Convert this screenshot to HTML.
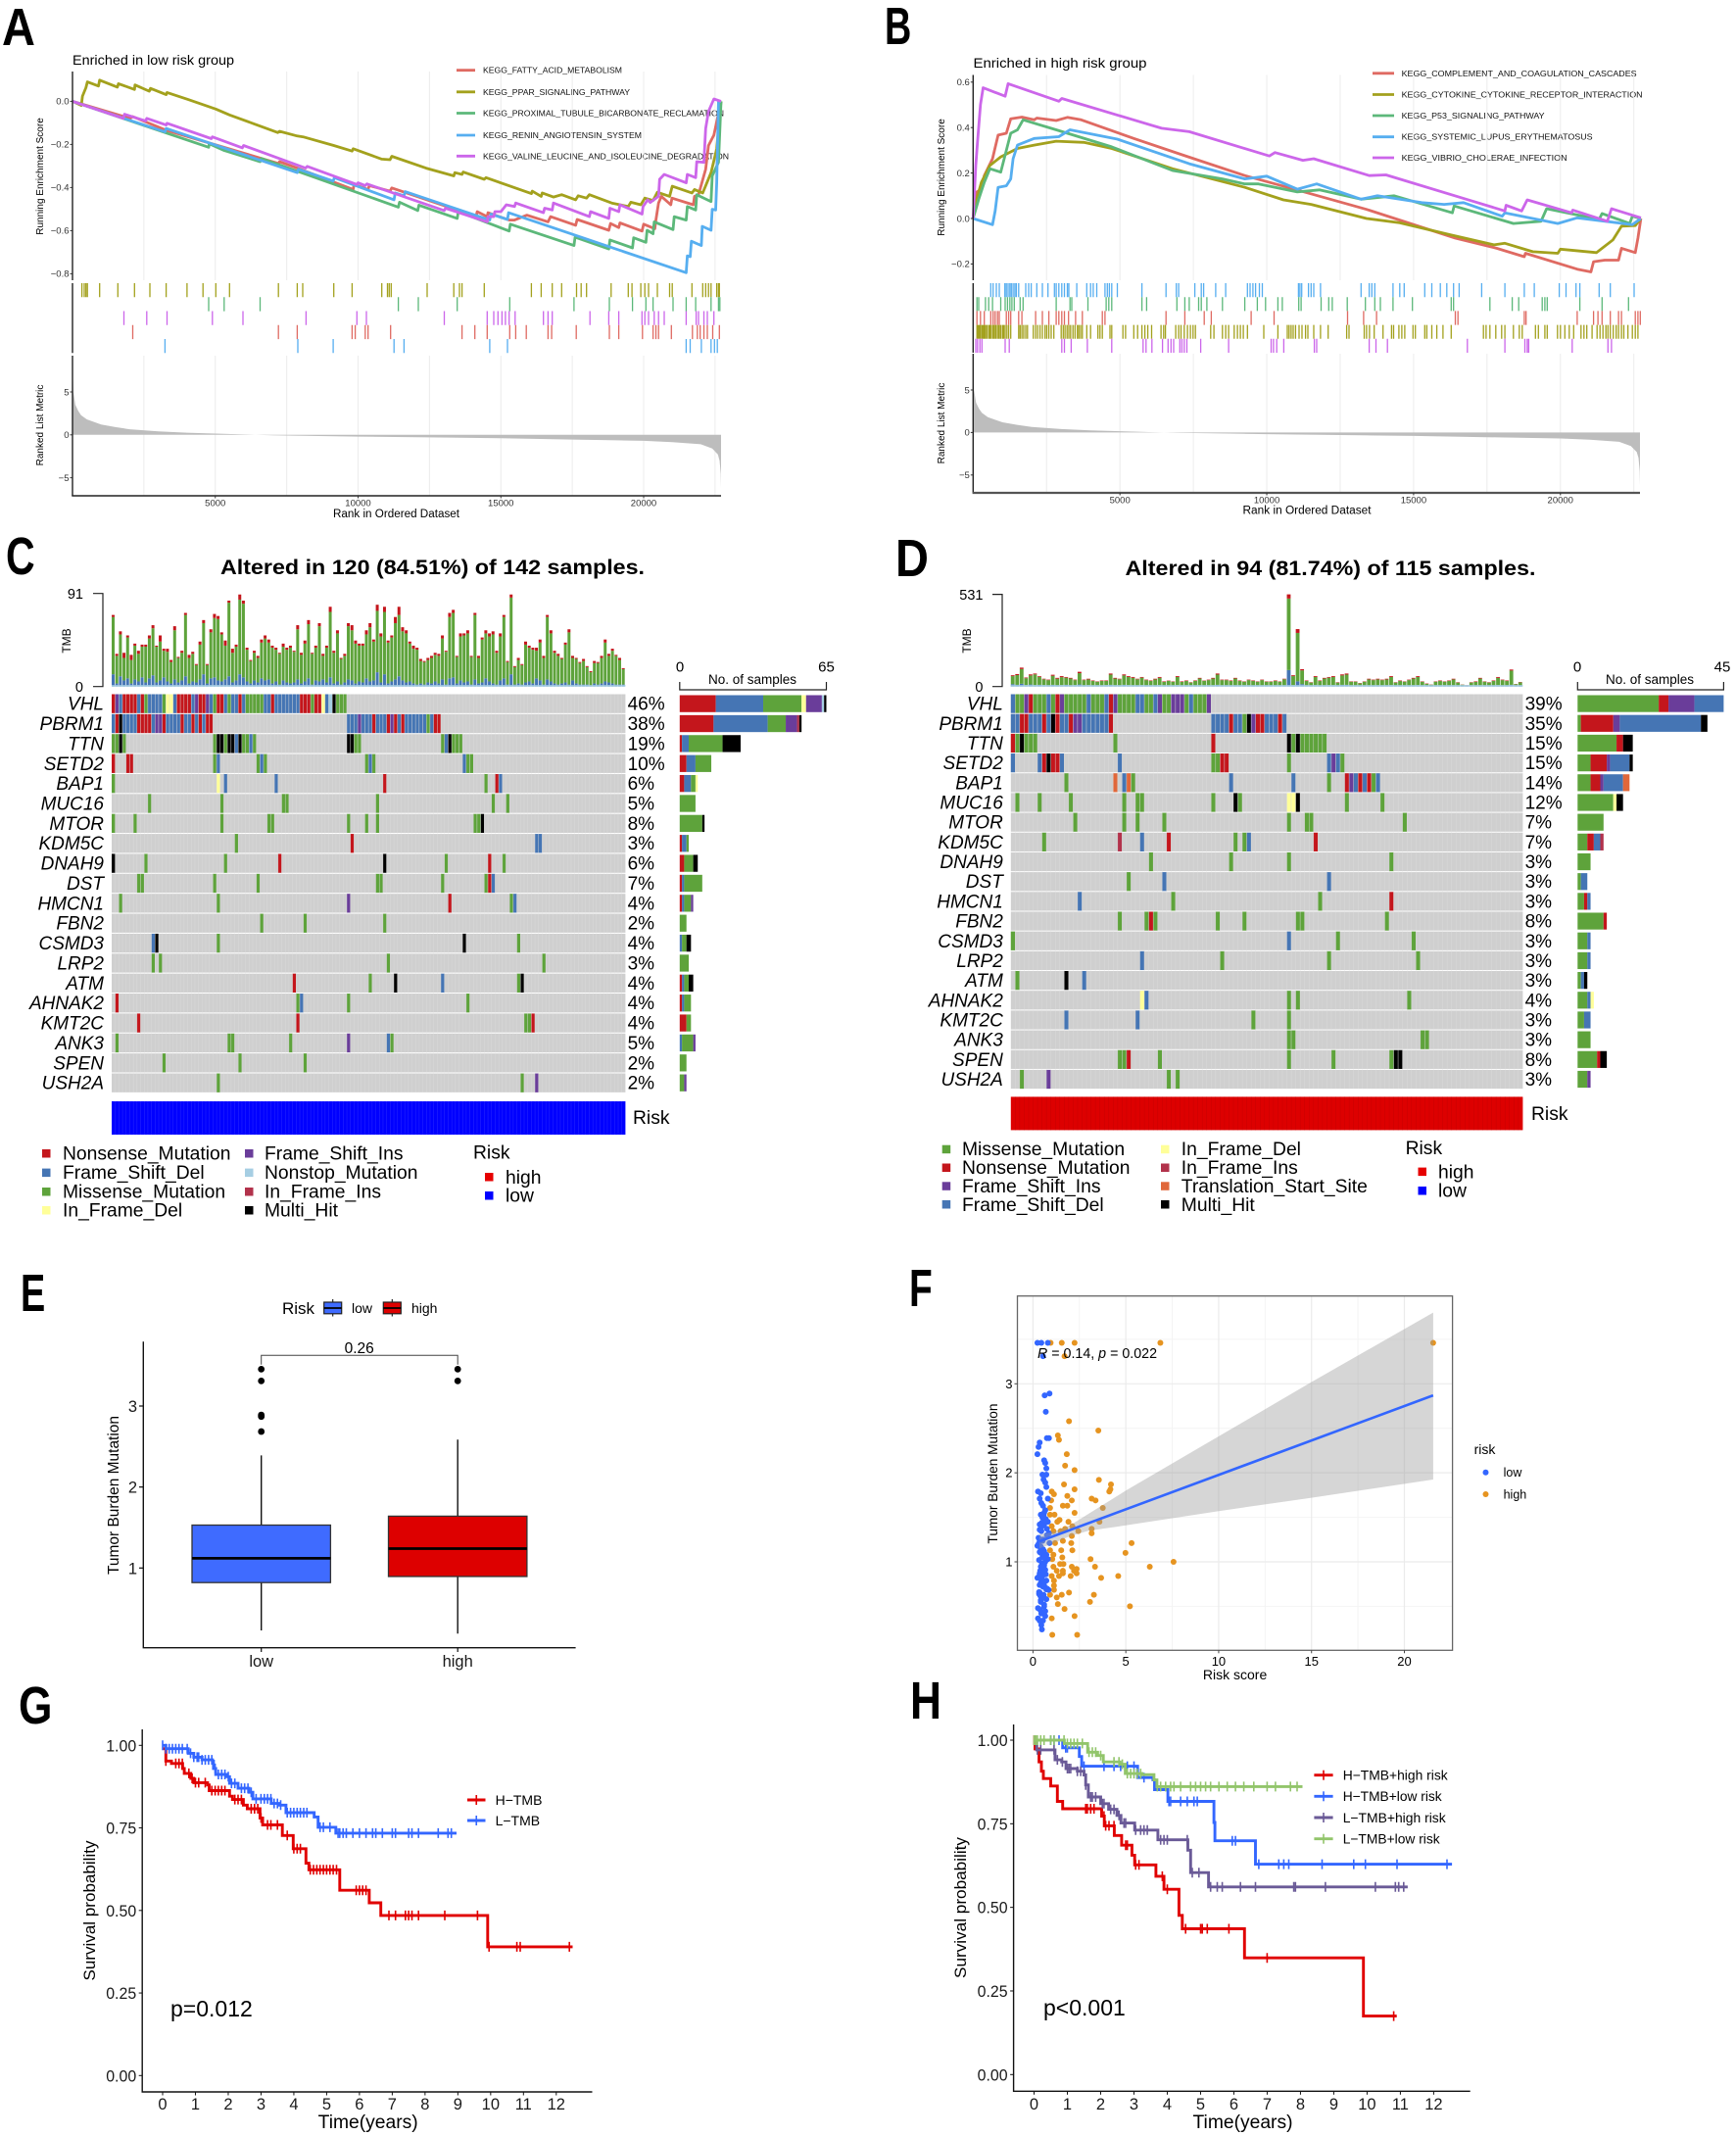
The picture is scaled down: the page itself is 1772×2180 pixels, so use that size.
<!DOCTYPE html>
<html><head><meta charset="utf-8"><title>Multi-panel figure</title>
<style>
html,body{margin:0;padding:0;background:#fff}
svg{display:block;filter:blur(.35px)}
text{font-family:"Liberation Sans",sans-serif;fill:#000}
.tk{font-size:16.5px;fill:#1a1a1a}
.lg{font-size:19.3px}
.gs{font-size:9.5px;fill:#333}
.kg{font-size:8.2px;fill:#111}
</style></head><body>
<svg id="fig" xmlns="http://www.w3.org/2000/svg" width="1772" height="2180" viewBox="0 0 1772 2180">
<rect width="1772" height="2180" fill="#fff"/>
<g id="letters" font-weight="700" font-size="54">
<text transform="translate(2,46) scale(.87,1)">A</text>
<text transform="translate(903,45) scale(.7,1)">B</text>
<text transform="translate(6,586) scale(.76,1)">C</text>
<text transform="translate(914,588) scale(.87,1)">D</text>
<text transform="translate(21,1338) scale(.7,1)">E</text>
<text transform="translate(928,1333) scale(.72,1)">F</text>
<text transform="translate(19,1759) scale(.82,1)">G</text>
<text transform="translate(929,1754) scale(.82,1)">H</text>
</g>
<g id="pa">
<text x="74" y="66" font-size="14" textLength="165" lengthAdjust="spacingAndGlyphs">Enriched in low risk group</text>
<text transform="translate(44,180) rotate(-90)" text-anchor="middle" font-size="10">Running Enrichment Score</text>
<text transform="translate(44,434) rotate(-90)" text-anchor="middle" font-size="10">Ranked List Metric</text>
<text x="404.5" y="528" text-anchor="middle" font-size="11.5" textLength="129" lengthAdjust="spacingAndGlyphs">Rank in Ordered Dataset</text>
<text class="kg" x="493" y="74.7" textLength="142" lengthAdjust="spacingAndGlyphs">KEGG_FATTY_ACID_METABOLISM</text>
<text class="kg" x="493" y="96.8" textLength="150" lengthAdjust="spacingAndGlyphs">KEGG_PPAR_SIGNALING_PATHWAY</text>
<text class="kg" x="493" y="118.5" textLength="246" lengthAdjust="spacingAndGlyphs">KEGG_PROXIMAL_TUBULE_BICARBONATE_RECLAMATION</text>
<text class="kg" x="493" y="141" textLength="162" lengthAdjust="spacingAndGlyphs">KEGG_RENIN_ANGIOTENSIN_SYSTEM</text>
<text class="kg" x="493" y="162.3" textLength="251" lengthAdjust="spacingAndGlyphs">KEGG_VALINE_LEUCINE_AND_ISOLEUCINE_DEGRADATION</text>
</g>
<g id="pb">
<text x="993.5" y="69" font-size="14" textLength="177" lengthAdjust="spacingAndGlyphs">Enriched in high risk group</text>
<text transform="translate(964,181) rotate(-90)" text-anchor="middle" font-size="10">Running Enrichment Score</text>
<text transform="translate(964,432) rotate(-90)" text-anchor="middle" font-size="10">Ranked List Metric</text>
<text x="1334" y="524.5" text-anchor="middle" font-size="11.5" textLength="131" lengthAdjust="spacingAndGlyphs">Rank in Ordered Dataset</text>
<text class="kg" x="1430.6" y="77.8" textLength="240" lengthAdjust="spacingAndGlyphs">KEGG_COMPLEMENT_AND_COAGULATION_CASCADES</text>
<text class="kg" x="1430.6" y="99.5" textLength="246" lengthAdjust="spacingAndGlyphs">KEGG_CYTOKINE_CYTOKINE_RECEPTOR_INTERACTION</text>
<text class="kg" x="1430.6" y="121" textLength="146" lengthAdjust="spacingAndGlyphs">KEGG_P53_SIGNALING_PATHWAY</text>
<text class="kg" x="1430.6" y="142.7" textLength="195" lengthAdjust="spacingAndGlyphs">KEGG_SYSTEMIC_LUPUS_ERYTHEMATOSUS</text>
<text class="kg" x="1430.6" y="164" textLength="169" lengthAdjust="spacingAndGlyphs">KEGG_VIBRIO_CHOLERAE_INFECTION</text>
</g>
<g id="pc">
<text x="441.5" y="586" text-anchor="middle" font-size="21" font-weight="700" textLength="433" lengthAdjust="spacingAndGlyphs">Altered in 120 (84.51%) of 142 samples.</text>
<text transform="translate(72,654) rotate(-90)" text-anchor="middle" font-size="12">TMB</text>
<text x="85" y="611" text-anchor="end" font-size="14.5">91</text>
<text x="85" y="706" text-anchor="end" font-size="14.5">0</text>
<text x="694" y="685.5" text-anchor="middle" font-size="15">0</text>
<text x="843.5" y="685.5" text-anchor="middle" font-size="15">65</text>
<text x="768" y="698" text-anchor="middle" font-size="13.5">No. of samples</text>
<text class="lg" x="646" y="1147">Risk</text>
<text class="lg" x="64" y="1183.5">Nonsense_Mutation</text>
<text class="lg" x="64" y="1203">Frame_Shift_Del</text>
<text class="lg" x="64" y="1222.5">Missense_Mutation</text>
<text class="lg" x="64" y="1241.5">In_Frame_Del</text>
<text class="lg" x="270" y="1183.5">Frame_Shift_Ins</text>
<text class="lg" x="270" y="1203">Nonstop_Mutation</text>
<text class="lg" x="270" y="1222.5">In_Frame_Ins</text>
<text class="lg" x="270" y="1241.5">Multi_Hit</text>
<text class="lg" x="483" y="1182.5">Risk</text>
<text class="lg" x="516" y="1208">high</text>
<text class="lg" x="516" y="1226.5">low</text>
</g>
<g id="pd">
<text x="1358" y="587" text-anchor="middle" font-size="21" font-weight="700" textLength="419" lengthAdjust="spacingAndGlyphs">Altered in 94 (81.74%) of 115 samples.</text>
<text transform="translate(991,654) rotate(-90)" text-anchor="middle" font-size="12">TMB</text>
<text x="1003.5" y="612" text-anchor="end" font-size="14.5">531</text>
<text x="1003.5" y="706" text-anchor="end" font-size="14.5">0</text>
<text x="1610" y="685.5" text-anchor="middle" font-size="15">0</text>
<text x="1758" y="685.5" text-anchor="middle" font-size="15">45</text>
<text x="1684" y="698" text-anchor="middle" font-size="13.5">No. of samples</text>
<text class="lg" x="1563" y="1143">Risk</text>
<text class="lg" x="982" y="1179">Missense_Mutation</text>
<text class="lg" x="982" y="1198">Nonsense_Mutation</text>
<text class="lg" x="982" y="1217">Frame_Shift_Ins</text>
<text class="lg" x="982" y="1236">Frame_Shift_Del</text>
<text class="lg" x="1205.8" y="1179">In_Frame_Del</text>
<text class="lg" x="1205.8" y="1198">In_Frame_Ins</text>
<text class="lg" x="1205.8" y="1217">Translation_Start_Site</text>
<text class="lg" x="1205.8" y="1236">Multi_Hit</text>
<text class="lg" x="1434.6" y="1178">Risk</text>
<text class="lg" x="1468" y="1202.5">high</text>
<text class="lg" x="1468" y="1221.5">low</text>
</g>
<g id="pe">
<text transform="translate(121,1526) rotate(-90)" text-anchor="middle" font-size="16" textLength="162" lengthAdjust="spacingAndGlyphs">Tumor Burden Mutation</text>
<text x="288" y="1341" font-size="17">Risk</text>
<text x="359" y="1340" font-size="14">low</text>
<text x="420" y="1340" font-size="14">high</text>
<text x="366.7" y="1381" text-anchor="middle" font-size="15.5">0.26</text>
</g>
<g id="pf">
<text transform="translate(1018,1504) rotate(-90)" text-anchor="middle" font-size="14" textLength="143" lengthAdjust="spacingAndGlyphs">Tumor Burden Mutation</text>
<text x="1260.6" y="1714" text-anchor="middle" font-size="14">Risk score</text>
<text x="1504.6" y="1484" font-size="14">risk</text>
<text x="1534.6" y="1507" font-size="12.5">low</text>
<text x="1534.6" y="1529.5" font-size="12.5">high</text>
</g>
<g id="pg">
<text transform="translate(97,1950) rotate(-90)" text-anchor="middle" font-size="17" textLength="143" lengthAdjust="spacingAndGlyphs">Survival probability</text>
<text x="375.7" y="2172" text-anchor="middle" font-size="19" textLength="102" lengthAdjust="spacingAndGlyphs">Time(years)</text>
<text x="174" y="2058" font-size="23">p=0.012</text>
<text x="505.6" y="1842" font-size="14">H−TMB</text>
<text x="505.6" y="1863" font-size="14">L−TMB</text>
</g>
<g id="ph">
<text transform="translate(986,1947) rotate(-90)" text-anchor="middle" font-size="17" textLength="144" lengthAdjust="spacingAndGlyphs">Survival probability</text>
<text x="1268.5" y="2172" text-anchor="middle" font-size="19" textLength="102" lengthAdjust="spacingAndGlyphs">Time(years)</text>
<text x="1065" y="2057" font-size="23">p&lt;0.001</text>
<text x="1370.7" y="1816.5" font-size="14" textLength="107" lengthAdjust="spacingAndGlyphs">H−TMB+high risk</text>
<text x="1370.7" y="1838" font-size="14" textLength="101" lengthAdjust="spacingAndGlyphs">H−TMB+low risk</text>
<text x="1370.7" y="1860" font-size="14" textLength="105" lengthAdjust="spacingAndGlyphs">L−TMB+high risk</text>
<text x="1370.7" y="1881.5" font-size="14" textLength="99" lengthAdjust="spacingAndGlyphs">L−TMB+low risk</text>
</g>
</svg>
<script>
/* ---------- GSEA data: rank (thousands), enrichment score ---------- */
const gseaXTicks=[5000,10000,15000,20000];
const gseaAYTicks=[0,-0.2,-0.4,-0.6,-0.8];
const gseaBYTicks=[0.6,0.4,0.2,0,-0.2];
const aRedRank=[0,2.02,2.11,3.28,7.21,7.25,7.87,9.83,9.86,10.35,10.39,11.12,11.18,13.64,14.13,14.17,14.52,14.55,15.29,15.48,15.91,16.65,16.74,17.62,17.67,18.78,18.84,19.13,19.17,19.94,20,20.39,20.43,20.52,20.62,20.95,20.99,21.74,21.78,21.92,22.17,22.27,22.46,22.71];
const aRedES=[0,-.079,-.071,-.134,-.288,-.28,-.31,-.409,-.386,-.409,-.391,-.417,-.402,-.512,-.535,-.512,-.535,-.517,-.551,-.551,-.528,-.559,-.535,-.575,-.548,-.598,-.567,-.586,-.564,-.602,-.57,-.591,-.551,-.472,-.441,-.48,-.449,-.48,-.441,-.433,-.315,-.205,-.157,0];
const aOliveRank=[0,.31,.35,.47,.52,.91,.95,1.57,1.61,2.17,2.19,2.69,2.73,3.28,3.31,4.05,5.02,5.5,7.19,7.25,7.87,8.08,9.15,9.79,9.83,10.83,11.12,11.18,12.38,13.35,13.39,13.64,13.68,14.42,14.48,16.07,16.1,16.41,16.45,16.84,17.13,17.62,17.71,18,18.1,18.88,19.46,19.55,19.9,20.04,20.33,20.48,20.91,21,21.69,21.78,22.07,22.36,22.56,22.71];
const aOliveES=[0,-.019,.024,.063,.09,.071,.098,.066,.082,.055,.076,.047,.06,.031,.041,.008,-.036,-.063,-.145,-.139,-.161,-.165,-.205,-.231,-.22,-.268,-.271,-.255,-.31,-.346,-.331,-.339,-.328,-.362,-.354,-.428,-.417,-.441,-.425,-.444,-.433,-.457,-.438,-.449,-.433,-.472,-.488,-.468,-.48,-.449,-.46,-.422,-.441,-.394,-.425,-.409,-.425,-.331,-.22,0];
const aGreenRank=[0,4.77,4.79,5.31,6.57,6.61,11.41,11.45,12.09,12.13,13.47,13.51,15.29,15.33,17.56,17.6,18.78,18.82,19.61,19.65,20.08,20.12,20.33,20.37,21.03,21.07,21.49,21.53,21.82,21.86,22.36,22.4,22.62,22.71];
const aGreenES=[0,-.213,-.197,-.228,-.28,-.265,-.491,-.468,-.507,-.482,-.543,-.512,-.602,-.57,-.669,-.63,-.685,-.643,-.68,-.633,-.654,-.598,-.614,-.559,-.595,-.535,-.551,-.488,-.504,-.433,-.465,-.346,-.283,0];
const aBlueRank=[0,3.24,3.28,7.87,7.91,9.13,9.17,11.26,11.3,11.61,11.65,14.61,14.65,15.23,15.27,21.49,21.53,21.63,21.67,22.02,22.05,22.36,22.4,22.52,22.56,22.62,22.71];
const aBlueES=[0,-.142,-.126,-.331,-.315,-.37,-.354,-.457,-.425,-.438,-.419,-.551,-.523,-.548,-.517,-.795,-.717,-.721,-.649,-.669,-.58,-.598,-.501,-.504,-.378,0,0];
const aPurpleRank=[0,1.78,1.82,2.56,2.6,3.28,3.31,4.86,4.9,5.95,5.99,8.16,8.22,9.96,10,10.25,10.31,13.02,13.06,14.52,14.55,14.75,14.79,15,15.19,15.48,15.52,16.49,16.53,16.8,16.84,18.1,18.14,18.78,18.82,19.13,19.17,19.94,19.98,20.14,20.23,20.52,20.56,20.72,21.49,21.53,21.82,21.86,22.11,22.17,22.27,22.46,22.71];
const aPurpleES=[0,-.079,-.06,-.091,-.079,-.11,-.102,-.173,-.165,-.216,-.205,-.31,-.302,-.386,-.378,-.391,-.383,-.507,-.496,-.559,-.535,-.535,-.512,-.512,-.48,-.488,-.472,-.517,-.496,-.504,-.472,-.535,-.512,-.543,-.496,-.512,-.48,-.523,-.488,-.457,-.469,-.441,-.362,-.339,-.378,-.339,-.354,-.28,-.283,-.126,-.047,.011,0];
const aRugOlive=[.33,.41,.47,.52,.95,1.59,2.17,2.71,3.28,4.01,4.57,5.02,5.5,7.21,7.87,8.06,9.15,9.79,10.83,11.03,11.09,11.16,12.42,13.35,13.55,13.64,14.42,16.07,16.41,16.8,17.13,17.65,17.81,18,18.86,19.46,19.59,19.9,20.04,20.17,20.48,20.91,21,21.69,22.07,22.17,22.27,22.36,22.56,22.62,22.65];
const aRugGreen=[4.77,5.31,6.57,11.41,12.11,13.47,15.31,17.56,18.8,19.61,20.08,20.33,21.03,21.49,21.82,22.36,22.62,22.67];
const aRugPurple=[1.8,2.6,3.31,4.9,5.97,8.18,9.96,10.29,13.02,14.52,14.75,14.9,15.04,15.16,15.29,15.5,16.49,16.65,16.8,18.12,18.78,19.13,19.94,20.04,20.17,20.37,20.52,20.72,21.49,21.84,21.92,22.11,22.23,22.46];
const aRugRed=[2.11,7.21,7.87,9.79,9.9,10.25,10.35,11.14,13.64,14.09,14.52,15.31,15.52,15.89,16.65,16.78,17.64,18.8,19.13,19.96,20.33,20.43,20.52,20.97,21.71,21.88,21.98,22.11,22.23,22.42,22.65];
const aRugBlue=[3.24,7.89,9.13,11.26,11.61,14.61,15.23,21.49,21.63,22.02,22.36,22.48,22.58];
const bRedRank=[0,.09,.28,.38,.66,.85,1.13,1.28,1.66,2.08,2.17,2.83,3.21,3.68,4.34,5.47,7.17,9.25,11.13,13.4,16.42,17.83,18.77,18.81,20.57,21.04,21.13,21.51,21.98,22.08,22.55,22.64,22.74];
const bRedES=[0,.114,.129,.189,.263,.367,.375,.439,.446,.434,.442,.431,.445,.434,.404,.352,.278,.189,.122,.04,-.086,-.131,-.168,-.153,-.223,-.235,-.19,-.183,-.183,-.131,-.15,-.086,0];
const bOliveRank=[0,.09,.28,.57,.94,1.51,2.08,2.83,3.77,4.72,6.79,9.25,10.57,11.51,13.4,14.53,16.23,17.74,18.11,19.06,19.91,20,21.23,21.79,22.08,22.55,22.74];
const bOliveES=[0,.07,.159,.233,.271,.308,.323,.34,.335,.308,.219,.137,.082,.062,0,-.019,-.071,-.116,-.109,-.146,-.153,-.135,-.15,-.094,-.034,-.031,0];
const bGreenRank=[0,.19,.38,.57,.94,1.28,1.51,1.7,2.83,3.21,4.72,6.79,8.49,9.25,9.72,11.04,11.79,13.21,14.34,16.32,16.38,18.4,19.34,19.53,21.32,21.42,22.36,22.45,22.74];
const bGreenES=[0,.085,.159,.219,.204,.375,.39,.434,.39,.375,.315,.211,.174,.152,.152,.117,.126,.085,.1,.025,.055,-.022,-.012,.043,-.004,.022,-.022,.01,0];
const bBlueRank=[0,.66,.75,.85,1.13,1.28,1.36,1.51,2.08,2.92,3.3,4.91,7.36,9.25,10,11.04,11.7,13.21,13.77,15.28,16.04,16.7,18.02,18.11,19.91,20.57,22.45,22.74];
const bBlueES=[0,-.027,.033,.137,.144,.174,.263,.323,.352,.36,.39,.349,.241,.174,.186,.129,.152,.085,.1,.07,.062,.07,.01,.025,-.022,.003,-.027,0];
const bPurpleRank=[0,.09,.15,.25,.34,1.09,1.19,2.92,3.02,6.42,7.36,10.09,10.28,11.23,11.6,13.49,14.06,16.79,18.11,18.15,18.68,18.87,20.38,20.42,21.6,21.74,22.74];
const bPurpleES=[0,.233,.338,.501,.575,.538,.593,.516,.528,.397,.382,.275,.29,.256,.263,.189,.192,.085,.033,.058,.033,.082,.025,.037,-.012,.043,.003];
const bRugBlue=[.6,.68,.79,.89,1.08,1.13,1.19,1.25,1.3,1.36,1.42,1.47,1.55,1.79,1.89,1.98,2.17,2.36,2.55,2.77,2.83,2.92,3.02,3.11,3.21,3.26,3.53,3.87,4,4.09,4.21,4.49,4.57,4.64,4.72,4.91,5.75,6.57,6.92,7,7.55,7.77,7.85,8.26,8.6,9.34,9.43,9.53,9.62,9.75,9.85,11.08,11.13,11.19,11.42,11.51,11.6,11.83,13.21,13.49,13.58,13.68,14.3,14.53,14.68,15.38,15.62,15.91,16.13,16.36,16.55,17.32,18.11,18.77,19.11,19.96,20.19,20.53,20.66,21.32,21.7,22.51];
const bRugGreen=[.13,.19,.42,.53,.66,.94,1.09,1.17,1.25,1.32,1.4,1.6,1.7,2.83,3.3,3.36,3.91,4.53,4.62,4.72,5.75,5.91,6.94,7.21,7.36,7.68,7.77,7.96,8.49,9.25,9.68,9.96,10.38,10.53,11.09,11.17,11.85,12.11,12.23,12.74,13.36,13.68,13.87,14.3,14.96,16.28,16.36,17.6,18.36,18.58,19.38,19.47,19.55,20.66,21.42,22.32];
const bRugRed=[.13,.25,.38,.6,.68,.75,.83,.89,1.13,1.21,1.28,1.55,1.66,2.13,2.36,2.58,2.83,2.92,3.02,3.11,3.25,3.49,3.72,4.4,4.49,6.57,7.21,7.87,8.11,9.47,10.25,12.75,13.3,13.74,16.42,16.51,18.77,18.83,20.57,21.13,21.28,21.42,21.7,21.98,22.08,22.55,22.64,22.72];
const bRugOlive=[.13,.17,.21,.25,.3,.34,.38,.42,.47,.53,.57,.6,.66,.7,.75,.79,.85,.89,.94,1,1.04,1.09,1.15,1.21,1.28,1.55,1.6,1.66,1.72,1.79,1.85,2.05,2.13,2.2,2.28,2.36,2.45,2.51,2.58,2.66,2.75,3,3.07,3.13,3.2,3.26,3.32,3.4,3.47,3.55,3.6,3.66,3.72,3.87,4,4.25,4.32,4.4,4.66,4.72,5.1,5.19,5.47,5.6,5.75,5.85,5.95,6.08,6.4,6.49,6.55,6.9,7,7.08,7.19,7.3,7.4,7.49,7.57,8.09,8.2,8.49,8.6,8.7,8.89,9,9.1,9.2,9.34,9.9,10.38,10.7,10.76,10.83,10.9,10.98,11.1,11.2,11.32,11.4,11.6,11.83,12.09,12.72,12.8,13.32,13.4,13.5,13.66,13.96,14.25,14.32,14.5,14.6,14.7,14.98,15.06,15.38,15.45,15.62,15.79,16,16.28,17.38,17.47,17.6,17.8,18,18.11,18.4,18.6,18.7,19.15,19.25,19.47,19.55,19.9,20,20.15,20.3,20.45,20.7,20.8,20.9,21.08,21.25,21.35,21.45,21.55,21.62,21.7,21.8,21.9,21.98,22.08,22.16,22.3,22.45,22.55,22.64];
const bRugPurple=[.09,.15,.23,.3,1.09,1.23,3.02,3.11,3.34,3.89,4.72,5.79,5.89,6.09,6.45,6.64,6.74,6.83,7.04,7.11,7.19,7.28,7.75,8.7,10.15,10.23,10.34,10.58,11.62,11.7,13.49,13.72,14.11,16.83,18.11,18.79,18.87,18.92,20.4,21.62,21.74];
const metricRank=[0,.03,.1,.2,.3,.5,1,1.5,2,3,4,5,6,7,10,12.5,15,17.5,20,21,22,22.4,22.6,22.66,22.7,22.71];
const metricValue=[8.5,5,3.5,2.8,2.3,1.8,1.2,.9,.65,.4,.25,.15,.05,-.05,-.2,-.3,-.4,-.55,-.7,-.85,-1.1,-1.6,-2.3,-3,-4.5,-6.2];

/* ---------- Oncoplot data ---------- */
const genesC=["VHL","PBRM1","TTN","SETD2","BAP1","MUC16","MTOR","KDM5C","DNAH9","DST","HMCN1","FBN2","CSMD3","LRP2","ATM","AHNAK2","KMT2C","ANK3","SPEN","USH2A"];
const pctC=["46%","38%","19%","10%","6%","5%","8%","3%","6%","7%","4%","2%","4%","3%","4%","4%","4%","5%","2%","2%"];
const genesD=["VHL","PBRM1","TTN","SETD2","BAP1","MUC16","MTOR","KDM5C","DNAH9","DST","HMCN1","FBN2","CSMD3","LRP2","ATM","AHNAK2","KMT2C","ANK3","SPEN","USH2A"];
const pctD=["39%","35%","15%","15%","14%","12%","7%","7%","3%","3%","3%","8%","3%","3%","3%","4%","3%","3%","8%","3%"];
const sideC=[[["N",16],["F",21],["M",17],["Y",2],["I",7],["T",1],["K",1]],[["N",15],["F",24],["M",8],["I",5],["R",1],["K",1]],[["N",1],["F",3],["M",15],["K",8]],[["N",3],["F",4],["M",7]],[["N",2],["F",3],["M",2],["Y",1]],[["M",7]],[["M",10],["K",1]],[["N",1],["F",2],["M",1]],[["N",2],["M",4],["K",2]],[["N",1],["F",1],["M",8]],[["N",1],["F",1],["M",3],["I",1]],[["M",3]],[["F",1],["M",2],["K",2]],[["M",4]],[["N",1],["F",1],["M",2],["K",2]],[["N",1],["F",1],["M",3]],[["N",3],["M",2]],[["F",1],["M",5],["I",1]],[["M",3]],[["M",2],["I",1]]];
const sideD=[[["M",25],["N",3],["I",8],["F",9]],[["M",1],["N",10],["I",2],["F",25],["K",2]],[["M",12],["N",2],["K",3]],[["M",4],["N",5],["I",1],["F",6],["K",1]],[["M",4],["N",3],["I",1],["F",6],["S",2]],[["M",11],["Y",1],["K",2]],[["M",8]],[["M",3],["N",2],["F",2],["R",1]],[["M",4]],[["M",1],["F",2]],[["M",2],["N",1],["F",1]],[["M",8],["N",1]],[["M",3],["F",1]],[["M",3],["F",1]],[["M",1],["F",1],["K",1]],[["M",3],["F",1],["Y",1]],[["M",2],["F",2]],[["M",4]],[["M",6],["N",1],["K",2]],[["M",3],["I",1]]];
const cellsC=[
[[0,"NIFNNNNFNMFFFFMYYFNNNNFINNIFMNNFMFFNFMMMMMFFNFFFFFFFNNNMNNYFTKMMM"]],
[[0,"FNKFFFFNNNNFIINFFFFNFFNFNFNN"],[65,"FFFIFFFNFFFNINFNFFFFFFMFNN"]],
[[0,"MMKM"],[28,"MKKMKKFKMMFM"],[65,"KKMM"],[91,"MFKMMM"]],
[[0,"N"],[4,"NN"],[28,"MF"],[40,"MFM"],[70,"MFM"],[97,"FMM"]],
[[0,"M"],[29,"Y"],[31,"F"],[45,"F"],[75,"N"],[103,"M"],[106,"NF"]],
[[10,"M"],[30,"M"],[47,"MM"],[73,"M"],[105,"M"],[109,"M"]],
[[0,"M"],[6,"M"],[30,"M"],[43,"MM"],[65,"M"],[70,"M"],[73,"M"],[100,"MMK"]],
[[34,"M"],[66,"N"],[117,"FF"]],
[[0,"K"],[9,"M"],[31,"M"],[46,"N"],[75,"K"],[92,"M"],[104,"N"],[108,"M"]],
[[7,"MM"],[28,"M"],[40,"M"],[73,"MM"],[91,"M"],[103,"MNF"]],
[[2,"M"],[29,"M"],[65,"I"],[93,"N"],[110,"MF"]],
[[41,"M"],[53,"M"],[75,"M"]],
[[11,"FK"],[29,"M"],[97,"K"],[112,"M"]],
[[11,"M"],[13,"M"],[76,"M"],[119,"M"]],
[[50,"N"],[71,"M"],[78,"K"],[91,"F"],[112,"MK"]],
[[1,"N"],[51,"MF"],[65,"M"],[98,"M"]],
[[7,"N"],[51,"N"],[114,"MMN"]],
[[1,"M"],[32,"MM"],[49,"M"],[65,"I"],[76,"FM"]],
[[14,"M"],[35,"M"],[53,"M"]],
[[29,"M"],[113,"M"],[117,"I"]]
];
const cellsD=[
[[0,"FMMINMMMFMNIMMMMMFMMMFNIMMMMFFMMFIMMIIIMFMMMI"]],
[[0,"FFNNFFFNFKNFFNIIFFFFFFN"],[45,"FFFFNFFMKINNFFFNF"]],
[[0,"NMKMMM"],[23,"M"],[45,"N"],[62,"KMKMMMMMM"]],
[[0,"F"],[6,"FNKNNF"],[24,"F"],[45,"MMNN"],[62,"M"],[71,"FIFM"]],
[[12,"M"],[23,"S"],[25,"FSM"],[49,"F"],[63,"F"],[71,"M"],[75,"NIFNFNMF"]],
[[1,"M"],[6,"M"],[13,"M"],[25,"M"],[28,"MM"],[45,"M"],[50,"KM"],[62,"YYK"],[75,"M"],[83,"M"]],
[[14,"M"],[25,"M"],[28,"M"],[34,"M"],[62,"M"],[66,"MM"],[88,"M"]],
[[7,"M"],[24,"R"],[29,"F"],[35,"N"],[50,"M"],[52,"MF"],[68,"N"]],
[[31,"M"],[49,"M"],[62,"M"],[85,"M"]],
[[26,"M"],[34,"F"],[71,"F"]],
[[15,"F"],[36,"M"],[69,"M"],[85,"N"]],
[[24,"M"],[30,"MNM"],[46,"M"],[52,"M"],[64,"MM"],[84,"M"]],
[[0,"M"],[62,"F"],[73,"M"],[90,"M"]],
[[29,"F"],[47,"M"],[71,"M"],[91,"M"]],
[[1,"M"],[12,"K"],[16,"F"]],
[[29,"YF"],[62,"M"],[64,"M"],[89,"M"]],
[[12,"F"],[28,"F"],[54,"M"],[62,"M"]],
[[62,"MM"],[92,"MM"]],
[[24,"MMN"],[33,"M"],[62,"M"],[72,"M"],[85,"MKK"]],
[[2,"M"],[8,"I"],[35,"M"],[37,"M"]]
];
const tmbC=[70,32,54,33,50,31,42,35,41,41,50,60,40,50,37,37,26,59,29,35,72,31,34,22,44,65,22,56,71,69,53,45,84,37,41,90,84,38,26,35,30,46,50,46,40,38,33,42,38,40,35,60,33,45,65,33,40,62,32,40,78,35,55,28,32,62,60,45,42,42,55,62,46,80,52,78,45,50,68,78,58,55,44,40,38,27,25,28,30,33,32,50,35,72,75,30,52,52,55,30,72,30,48,55,52,54,35,52,70,25,90,20,28,22,44,40,38,38,46,30,70,55,35,32,28,43,56,30,28,24,27,20,15,25,24,30,46,32,37,31,28,18];
const tmbCFrame=[12,3,10,6,8,3,7,5,9,4,8,11,4,6,9,5,3,7,4,6,10,3,5,4,7,12,3,8,9,6,5,7,10,4,6,12,9,5,3,6,4,8,6,7,3,5,2,6,4,3,4,7,3,5,8,2,6,5,7,4,9,3,5,2,4,7,6,3,5,4,8,5,6,14,4,12,3,5,7,10,6,4,5,3,2,3,2,4,3,5,3,7,2,8,9,3,6,4,5,2,7,3,4,8,5,3,2,6,8,2,12,2,3,2,4,5,3,8,6,2,7,5,3,2,3,4,2,6,3,2,2,2,1,3,2,3,5,4,3,2,2,2];
const tmbCNon=[2,2,3,5,2,5,2,3,2,2,3,3,1,6,2,3,2,4,1,2,2,3,2,1,3,3,1,3,4,3,2,5,2,4,2,5,3,2,1,2,2,3,3,3,2,2,1,3,2,2,1,4,2,3,4,1,2,3,2,2,5,2,3,1,2,3,5,3,2,2,4,4,2,6,3,5,2,2,6,8,4,3,2,3,2,2,1,2,2,2,2,3,1,4,3,1,3,2,3,1,2,2,2,3,3,3,2,3,2,1,3,1,2,1,3,2,2,3,3,2,2,3,2,2,1,2,3,2,1,1,2,1,1,2,1,2,3,2,2,1,2,1];
const tmbD=[65,72,109,52,70,75,60,45,40,68,50,60,55,50,40,85,40,45,35,30,35,35,75,50,45,70,60,55,45,55,40,35,45,55,30,35,30,60,30,35,25,35,50,35,40,50,75,40,40,35,50,35,30,40,35,30,40,30,30,35,30,45,531,65,331,100,35,25,60,35,50,55,60,25,70,75,30,30,20,30,45,40,45,40,45,60,25,35,30,40,50,60,30,18,12,30,35,30,35,45,25,12,8,25,30,50,30,25,35,55,40,35,98,15,26];
const tmbDFrame=[14,10,16,8,12,8,10,8,6,10,6,8,10,6,8,12,6,8,6,5,6,8,10,7,6,10,8,7,6,8,6,5,6,8,5,4,5,8,5,6,4,6,7,5,6,7,10,5,6,5,6,5,4,6,5,4,6,4,4,5,4,6,95,8,30,14,5,4,8,5,7,8,8,4,10,10,5,4,3,5,6,6,7,6,6,8,4,5,4,6,7,8,4,3,2,5,5,4,6,7,4,2,2,4,5,7,5,4,5,8,6,5,10,3,4];
const tmbDNon=[5,6,8,4,6,5,4,3,3,6,5,6,4,4,3,8,3,4,3,2,3,3,6,4,3,6,5,5,3,4,3,3,4,5,3,2,2,5,3,3,2,3,4,2,3,4,6,3,3,3,4,3,2,3,3,2,3,2,2,3,2,3,24,5,22,7,3,2,5,3,4,4,5,2,6,6,2,2,2,2,4,3,4,3,4,5,2,3,2,3,4,5,2,2,1,2,3,2,3,4,2,1,1,2,3,4,2,2,3,5,3,3,6,1,2];

/* ---------- Box plot data ---------- */
const boxCats=["low","high"];
const boxQ1=[.82,.895];
const boxMedian=[1.12,1.24];
const boxQ3=[1.53,1.64];
const boxLow=[.23,.19];
const boxHigh=[2.39,2.585];
const boxOutliers=[[3.455,3.31,2.89,2.87,2.685],[3.455,3.31]];
const boxYTicks=[1,2,3];

/* ---------- Scatter data ---------- */
const scLowX=[.24,.45,.8,.54,.89,.63,.69,.75,.86,.36,.3,.24,.6,.66,.72,.51,.72,.57,.66,.72,.27,.42,.36,.45,.54,.8,.42,.66,.6,.51,.36,.8,.6,.45,.75,.86,.36,.51,.89,.24,.42,.6,.36,.72,.51,.8,.66,.42,.6,.36,.24,.51,.72,.42,.6,.84,.36,.57,.72,.42,.6,.66,.45,.66,.27,.36,.54,.45,.48,.3,.42,.54,.66,.33,.48,.6,.39,.57,.69,.3,.45,.63,.36,.54,.75,.33,.51,.42,.6,.27,.39,.57,.69,.48,.36,.75,.3,.54,.42,.63,.51,.66,.36,.45,.6,.72,.33,.39,.57,.48];
const scLowY=[3.46,3.46,3.46,3.31,2.89,2.87,2.685,2.39,2.39,2.34,2.29,2.21,2.14,2.11,2.05,1.98,1.98,1.925,1.89,1.84,1.79,1.77,1.71,1.66,1.63,1.71,1.53,1.58,1.55,1.5,1.42,1.45,1.42,1.345,1.37,1.32,1.23,1.235,1.21,1.18,1.15,1.12,1.11,1.08,1.05,1.03,1,.945,.92,.87,.82,.84,.79,.76,.735,.685,.655,.63,.58,.55,.5,.445,.42,.39,.365,.34,.34,.29,.24,1.2,1.17,1.14,1.07,1.02,.98,.96,.9,.88,.86,.83,.8,.78,.74,.72,.7,.66,.6,.57,.52,.48,.46,1.52,1.48,1.4,1.36,1.3,1.27,1.25,1.1,1.06,.94,.91,.85,.81,.77,.69,.64,.62,.61,1.44];
const scHighX=[.95,1.55,2.24,6.86,21.55,1.7,1.94,3.52,1.34,1.4,1.82,1.73,2.24,3.55,1.67,4.2,2.24,4.17,4.11,1.01,1.13,3.16,3.37,.98,2.09,1.61,1.85,3.76,.92,1.85,2.24,.92,1.16,1.43,1.31,1.91,3.58,1.01,2.12,1.73,3.16,2.44,1.49,1.1,3.16,2.09,5.31,1.61,1.19,2.06,1.52,2.12,.92,4.98,1.1,1.58,3.1,1.04,7.57,1.64,1.46,3.34,6.29,1.1,2.09,2.35,1.28,2.21,1.61,2.35,4.59,3.67,2.03,1.4,1.01,1.13,1.61,1.13,1.13,1.94,3.28,1.55,1.28,.92,3.07,1.34,5.22,1.7,2.24,1.01,1.04,2.38];
const scHighY=[3.46,3.46,3.46,3.46,3.46,3.31,2.58,2.475,2.42,2.37,2.21,2.08,2.03,1.92,1.87,1.87,1.815,1.815,1.79,1.79,1.76,1.71,1.69,1.69,1.69,1.63,1.63,1.605,1.605,1.74,1.55,1.53,1.53,1.47,1.45,1.45,1.45,1.4,1.4,1.37,1.37,1.345,1.345,1.345,1.32,1.29,1.21,1.235,1.21,1.21,1.13,1.13,1.13,1.1,1.08,1.05,1.03,1.03,1,.975,.975,.945,.945,.945,.945,.92,.9,.9,.9,.87,.84,.82,.84,.84,.84,.79,.87,.735,.685,.655,.63,.63,.6,.63,.55,.525,.5,.47,.39,.365,.18,.18];
const fitX=[.35,21.55];
const fitY=[1.23,2.87];
const ribbonX=[.35,1,2,3,5,10,15,21.55];
const ribbonUpper=[1.31,1.33,1.41,1.54,1.8,2.41,3.02,3.8];
const ribbonLower=[1.15,1.2,1.29,1.35,1.41,1.57,1.72,1.925];
const scXTicks=[0,5,10,15,20];
const scYTicks=[1,2,3];

/* ---------- Survival data ---------- */
const kmYTicks=["0.00","0.25","0.50","0.75","1.00"];
const kmXTicks=[0,1,2,3,4,5,6,7,8,9,10,11,12];
const gRedT=[0,.1,.27,.61,.66,.86,.95,1.37,1.42,2.04,2.13,2.46,2.58,2.97,3.05,3.65,3.98,4.37,4.46,5.4,6.3,6.65,9.91,12.5];
const gRedS=[.99,.9525,.945,.93,.915,.9,.887,.88,.863,.846,.836,.819,.808,.78,.759,.727,.687,.643,.623,.561,.523,.485,.39,.39];
const gRedC=[.1,.4,.5,.6,.8,.9,1,1.1,1.3,1.5,1.6,1.7,1.8,1.9,2.2,2.3,2.4,2.7,2.8,2.9,3,3.2,3.3,3.5,3.8,4,4.1,4.2,4.5,4.6,4.7,4.8,4.9,5,5.1,5.2,5.3,5.9,6,6.1,6.2,6.9,7.1,7.4,7.5,7.6,7.8,8.6,9.6,9.95,10.8,10.9,12.4];
const gBlueT=[0,.1,.78,.95,1.2,1.52,1.55,1.62,1.96,2.04,2.3,2.63,2.75,3.31,3.56,3.76,4.62,4.74,5.28,8.96];
const gBlueS=[1,.99,.976,.964,.956,.952,.93,.912,.905,.885,.87,.858,.838,.824,.819,.796,.783,.752,.734,.734];
const gBlueC=[0,.1,.2,.3,.4,.5,.6,.75,.85,.95,1.05,1.1,1.2,1.3,1.4,1.5,1.6,1.7,1.8,1.9,2,2.1,2.2,2.4,2.5,2.6,2.7,2.85,3,3.1,3.2,3.3,3.4,3.5,3.6,3.8,3.9,4,4.1,4.2,4.3,4.4,4.8,4.9,5.1,5.35,5.4,5.5,5.6,5.8,6,6.2,6.4,6.5,6.7,7,7.1,7.5,7.6,7.8,8.4,8.7,8.8];
const hRedT=[0,.03,.15,.22,.28,.5,.7,.86,2.03,2.11,2.41,2.63,2.94,3.02,3.66,3.9,4.35,4.45,6.32,9.89,10.89];
const hRedS=[1,.974,.935,.907,.885,.863,.817,.795,.773,.744,.715,.686,.656,.627,.593,.554,.476,.436,.349,.175,.175];
const hRedC=[0,1.55,1.6,1.7,1.8,2.1,2.15,2.25,2.4,2.75,2.8,3.05,3.15,3.85,4,4.55,5,5.05,5.2,5.85,7,10.8];
const hBlueT=[0,.86,1.36,1.43,3.11,3.57,3.62,4.02,5.4,5.43,6.65,12.55];
const hBlueS=[1,.977,.951,.922,.888,.881,.852,.817,.754,.699,.629,.629];
const hBlueC=[.05,.5,.6,.75,.95,1,1.5,2.1,2.4,2.6,2.8,3,3.3,4.05,4.1,4.4,4.6,4.8,4.9,5.95,6.05,6.75,7.35,7.5,7.65,8.65,9.6,9.95,10.9,12.4];
const hPurpleT=[0,.08,.63,.83,.96,1.3,1.5,1.55,1.63,2,2.24,2.49,2.61,3.02,3.72,4.62,4.7,5.24,11.22];
const hPurpleS=[1,.971,.941,.935,.915,.907,.896,.866,.83,.81,.793,.775,.752,.731,.702,.671,.604,.561,.561];
const hPurpleC=[.1,.2,.6,.7,.85,1,1.05,1.1,1.3,1.4,1.55,1.7,1.75,1.85,2.05,2.1,2.3,2.4,2.55,2.7,2.75,3.05,3.2,3.3,3.4,3.8,3.9,4,4.6,4.75,4.95,5.3,5.5,5.65,6.2,6.65,7.8,7.85,8.75,10.25,10.85,10.95,11.1];
const hGreenT=[0,.91,1.61,1.91,2.08,2.58,2.74,3.24,3.6,3.69,8.06];
const hGreenS=[1,.99,.964,.954,.935,.928,.9,.897,.881,.861,.861];
const hGreenC=[0,.05,.1,.2,.3,.5,.6,.9,1,1.1,1.2,1.3,1.45,1.65,1.75,1.85,2,2.4,2.55,2.65,2.8,2.9,3,3.1,3.2,3.7,3.8,3.95,4.1,4.2,4.4,4.7,4.85,5,5.15,5.3,5.55,5.8,6.05,6.3,6.6,7,7.25,7.7,7.9];

/* ---------- helpers ---------- */
const NS="http://www.w3.org/2000/svg";
function mk(tag,attrs,name,parent){
  const el=document.createElementNS(NS,tag);
  for(const k in attrs)el.setAttribute(k,attrs[k]);
  
  
  parent.appendChild(el);
  return el;
}
function txt(s,attrs,name,parent){const t=mk('text',attrs,name,parent);t.textContent=s;return t;}
function lin(d0,d1,r0,r1){return v=>r0+(v-d0)*(r1-r0)/(d1-d0);}
const COL={N:"#c4161c",F:"#4575b4",M:"#5ea33b",Y:"#ffff99",I:"#6a3d9a",T:"#a6cee3",R:"#b2324b",K:"#000000",S:"#e0673a"};
const GC={red:"#df6a62",olive:"#a3a11d",green:"#5cb87a",blue:"#56aef0",purple:"#cc66ea"};

function drawGsea(c){
  const p=document.getElementById(c.id);
  const x=lin(0,22.71,c.x0,c.x1);
  const y=lin(0,-0.2,c.y0,c.y02);
  const m=lin(0,5,c.m0,c.m5);
  const grid=[2.5,5,7.5,10,12.5,15,17.5,20,22.5];
  grid.forEach(g=>{
    mk('line',{x1:x(g),x2:x(g),y1:c.top,y2:c.bot,stroke:"#ececec","stroke-width":1},'gsea-grid-line',p);
    mk('line',{x1:x(g),x2:x(g),y1:c.mTop,y2:c.mBot,stroke:"#ececec","stroke-width":1},'metric-grid-line',p);
  });
  c.series.forEach(s=>{
    const pts=s.r.map((r,i)=>x(r).toFixed(1)+","+y(s.e[i]).toFixed(1)).join(" ");
    mk('polyline',{points:pts,fill:"none",stroke:GC[s.c],"stroke-width":2.8,"stroke-linejoin":"round"},'enrichment-curve-'+s.c,p);
  });
  c.rugs.forEach((arr,i)=>{
    const d=arr.d.map(r=>"M"+x(r).toFixed(1)+" "+(c.rug0+i*c.rugH).toFixed(1)+"v"+(c.rugH).toFixed(1)).join("");
    mk('path',{d:d,stroke:GC[arr.c],"stroke-width":1.3,fill:"none"},'rug-'+arr.c,p);
  });
  let d="M"+x(0)+" "+m(0);
  metricRank.forEach((r,i)=>{d+="L"+x(r).toFixed(1)+" "+m(metricValue[i]).toFixed(1);});
  d+="L"+x(22.71)+" "+m(0)+"Z";
  mk('path',{d:d,fill:"#bdbdbd"},'ranked-metric-area',p);
  [[c.top,c.bot],[c.rug0,c.rug0+5*c.rugH],[c.mTop,c.mBot]].forEach(a=>{
    mk('line',{x1:c.x0,x2:c.x0,y1:a[0],y2:a[1],stroke:"#222","stroke-width":1.4},'gsea-axis-left',p);
  });
  mk('line',{x1:c.x0-.7,x2:c.x1,y1:c.mBot,y2:c.mBot,stroke:c.botCol,"stroke-width":c.botW},'gsea-axis-bottom',p);
  c.yticks.forEach(t=>{
    mk('line',{x1:c.x0-2.5,x2:c.x0,y1:y(t),y2:y(t),stroke:"#333"},'gsea-y-tick',p);
    txt(t===0?"0.0":String(t.toFixed(1)).replace("-","−"),{class:"gs",x:c.x0-3.5,y:y(t)+3.3,"text-anchor":"end"},'gsea-y-tick-label',p);
  });
  [5,0,-5].forEach(t=>{
    mk('line',{x1:c.x0-2.5,x2:c.x0,y1:m(t),y2:m(t),stroke:"#333"},'metric-y-tick',p);
    txt(String(t).replace("-","−"),{class:"gs",x:c.x0-3.5,y:m(t)+3.3,"text-anchor":"end"},'metric-y-tick-label',p);
  });
  gseaXTicks.forEach(t=>{
    mk('line',{x1:x(t/1000),x2:x(t/1000),y1:c.mBot,y2:c.mBot+2.5,stroke:"#333"},'gsea-x-tick',p);
    txt(String(t),{class:"gs",x:x(t/1000),y:c.xLab,"text-anchor":"middle"},'gsea-x-tick-label',p);
  });
  const keys=[GC.red,GC.olive,GC.green,GC.blue,GC.purple];
  const kl=c.keyCols||keys;
  c.keyY.forEach((ky,i)=>{
    mk('line',{x1:c.keyX0,x2:c.keyX1,y1:ky,y2:ky,stroke:kl[i],"stroke-width":2.8},'gsea-legend-key',p);
  });
}

drawGsea({id:"pa",x0:74,x1:736,y0:103.4,y02:147.4,m0:443.8,m5:400,top:73,bot:286,rug0:289,rugH:14.25,mTop:363,mBot:506,botCol:"#222",botW:1.4,xLab:516.5,
 yticks:gseaAYTicks,keyX0:466,keyX1:485,keyY:[71.7,93.8,115.5,138,159.3],
 series:[{c:"red",r:aRedRank,e:aRedES},{c:"olive",r:aOliveRank,e:aOliveES},{c:"green",r:aGreenRank,e:aGreenES},{c:"blue",r:aBlueRank,e:aBlueES},{c:"purple",r:aPurpleRank,e:aPurpleES}],
 rugs:[{c:"olive",d:aRugOlive},{c:"green",d:aRugGreen},{c:"purple",d:aRugPurple},{c:"red",d:aRugRed},{c:"blue",d:aRugBlue}]});
drawGsea({id:"pb",x0:993.3,x1:1674,y0:223,y02:269.4,m0:441.4,m5:398,top:76.5,bot:286,rug0:289,rugH:14.2,mTop:361,mBot:503,botCol:"#555",botW:2.2,xLab:513.5,
 yticks:gseaBYTicks,keyX0:1401,keyX1:1423,keyY:[74.8,96.5,118,139.7,161],
 series:[{c:"red",r:bRedRank,e:bRedES},{c:"olive",r:bOliveRank,e:bOliveES},{c:"green",r:bGreenRank,e:bGreenES},{c:"blue",r:bBlueRank,e:bBlueES},{c:"purple",r:bPurpleRank,e:bPurpleES}],
 rugs:[{c:"blue",d:bRugBlue},{c:"green",d:bRugGreen},{c:"red",d:bRugRed},{c:"olive",d:bRugOlive},{c:"purple",d:bRugPurple}]});

function drawOnco(c){
  const p=document.getElementById(c.id);
  const cw=(c.x1-c.x0)/c.n;
  const X=i=>c.x0+i*cw;
  const ty=lin(0,c.tmbMax,700.7,c.tmbTop);
  // TMB axis
  mk('path',{d:`M${c.tx-10} ${c.tmbTop}H${c.tx}V700.7H${c.tx-10}`,fill:"none",stroke:"#222","stroke-width":1.2},'tmb-axis',p);
  c.tmb.forEach((v,i)=>{
    const f=c.frame[i],nn=c.non[i];
    const w=Math.max(cw-.7,1);
    mk('rect',{x:X(i),y:ty(f),width:w,height:700.7-ty(f),fill:COL.F},'tmb-bar-frameshift',p);
    mk('rect',{x:X(i),y:ty(v-nn),width:w,height:ty(f)-ty(v-nn),fill:COL.M},'tmb-bar-missense',p);
    mk('rect',{x:X(i),y:ty(v),width:w,height:ty(v-nn)-ty(v),fill:COL.N},'tmb-bar-nonsense',p);
  });
  mk('rect',{x:c.x0,y:699.2,width:c.x1-c.x0,height:1.5,fill:COL.T},'tmb-baseline-strip',p);
  // rows
  c.genes.forEach((g,r)=>{
    const y=c.ry0+r*c.rstep;
    mk('rect',{x:c.x0,y:y,width:c.x1-c.x0,height:c.rh,fill:"#cfcfcf"},'heatmap-row-'+g,p);
    txt(g,{x:c.x0-8,y:y+c.rh/2+6.5,"text-anchor":"end","font-size":19,"font-style":"italic"},'gene-label-'+g,p);
    txt(c.pct[r],{x:c.x1+2.2,y:y+c.rh/2+6.5,"font-size":19},'gene-percent-'+g,p);
    c.cells[r].forEach(run=>{
      [...run[1]].forEach((code,k)=>{
        mk('rect',{x:X(run[0]+k),y:y,width:cw-.3,height:c.rh,fill:COL[code]},'mutation-cell',p);
      });
    });
    let sx=c.sx0;
    const sc=(c.sx1-c.sx0)/c.sideMax;
    c.side[r].forEach(seg=>{
      mk('rect',{x:sx,y:y+1,width:seg[1]*sc,height:c.rh-2,fill:COL[seg[0]]},'side-bar-segment',p);
      sx+=seg[1]*sc;
    });
  });
  // column separators
  let d="";
  for(let i=1;i<c.n;i++)d+=`M${X(i).toFixed(2)} ${c.ry0}V${c.ry0+19*c.rstep+c.rh}`;
  const sep=mk('path',{d:d,stroke:"#e2e2e2","stroke-width":.35,fill:"none"},'column-separators',p);
  sep.setAttribute('opacity','.8');
  // side axis
  mk('path',{d:`M${c.sx0} 696V704H${c.sx1}V696`,fill:"none",stroke:"#222","stroke-width":1.2},'side-bar-axis',p);
  // risk bar
  mk('rect',{x:c.x0,y:c.riskY,width:c.x1-c.x0,height:c.riskH,fill:c.riskCol},'risk-annotation-bar',p);
  let rd="";
  for(let i=1;i<c.n;i++)rd+=`M${X(i).toFixed(2)} ${c.riskY}v${c.riskH}`;
  mk('path',{d:rd,stroke:c.riskStripe,"stroke-width":.5,fill:"none"},'risk-bar-stripes',p);
  c.legend.forEach(l=>{
    mk('rect',{x:l[0]-4,y:l[1]-4,width:8.5,height:8.5,fill:l[2]},'legend-swatch',p);
  });
}
drawOnco({id:"pc",x0:114,x1:638.4,n:142,tx:105,tmbTop:605.7,tmbMax:91,tmb:tmbC,frame:tmbCFrame,non:tmbCNon,genes:genesC,pct:pctC,cells:cellsC,side:sideC,sideMax:65,sx0:693.8,sx1:843.5,ry0:708.5,rstep:20.37,rh:19.3,riskY:1124,riskH:34,riskCol:"#0000ff",riskStripe:"#2a2aff",
 legend:[[47,1177,COL.N],[47,1196.6,COL.F],[47,1216,COL.M],[47,1235,COL.Y],[254,1177,COL.I],[254,1196.6,COL.T],[254,1216,COL.R],[254,1235,COL.K],[499,1201,"#e60000"],[499,1220,"#0000ff"]]});
drawOnco({id:"pd",x0:1031.8,x1:1554.4,n:115,tx:1023,tmbTop:606.6,tmbMax:531,tmb:tmbD,frame:tmbDFrame,non:tmbDNon,genes:genesD,pct:pctD,cells:cellsD,side:sideD,sideMax:45,sx0:1610.3,sx1:1759.4,ry0:708.5,rstep:20.18,rh:19.2,riskY:1119.4,riskH:34,riskCol:"#dd0000",riskStripe:"#c80000",
 legend:[[965.7,1172.7,COL.M],[965.7,1191.5,COL.N],[965.7,1210.3,COL.I],[965.7,1229,COL.F],[1189,1172.7,COL.Y],[1189,1191.5,COL.R],[1189,1210.3,COL.S],[1189,1229,COL.K],[1451.5,1195.6,"#e60000"],[1451.5,1215,"#0000ff"]]});

/* box plot */
(function(){
  const p=document.getElementById("pe");
  const y=lin(1,3,1600.3,1435);
  const cx=[266.7,467.2],hw=70.7,cols=["#3f6bff","#dd0000"];
  boxCats.forEach((cat,i)=>{
    mk('line',{x1:cx[i],x2:cx[i],y1:y(boxLow[i]),y2:y(boxHigh[i]),stroke:"#111","stroke-width":1.4},'box-whisker-'+cat,p);
    mk('rect',{x:cx[i]-hw,y:y(boxQ3[i]),width:2*hw,height:y(boxQ1[i])-y(boxQ3[i]),fill:cols[i],stroke:"#333","stroke-width":1.3},'box-'+cat,p);
    mk('line',{x1:cx[i]-hw,x2:cx[i]+hw,y1:y(boxMedian[i]),y2:y(boxMedian[i]),stroke:"#000","stroke-width":2.8},'box-median-'+cat,p);
    boxOutliers[i].forEach(v=>mk('circle',{cx:cx[i],cy:y(v),r:3.4,fill:"#000"},'box-outlier-'+cat,p));
    mk('line',{x1:cx[i],x2:cx[i],y1:1681.7,y2:1686,stroke:"#111","stroke-width":1.2},'box-x-tick',p);
    txt(cat,{class:"tk",x:cx[i],y:1701,"text-anchor":"middle"},'box-x-label-'+cat,p);
  });
  mk('path',{d:`M${cx[0]} 1392.7V1383.3H${cx[1]}V1392.7`,fill:"none",stroke:"#444","stroke-width":1},'significance-bracket',p);
  mk('path',{d:"M146.3 1369.3V1681.7H587.6",fill:"none",stroke:"#111","stroke-width":1.4},'box-axes',p);
  boxYTicks.forEach(t=>{
    mk('line',{x1:142,x2:146.3,y1:y(t),y2:y(t),stroke:"#111","stroke-width":1.2},'box-y-tick',p);
    txt(String(t),{class:"tk",x:140,y:y(t)+6,"text-anchor":"end"},'box-y-label',p);
  });
  [[339.7,cols[0]],[400.3,cols[1]]].forEach(k=>{
    mk('line',{x1:k[0],x2:k[0],y1:1326,y2:1343.5,stroke:"#111","stroke-width":1.1},'box-legend-whisker',p);
    mk('rect',{x:k[0]-9,y:1329,width:18,height:11.8,fill:k[1],stroke:"#222","stroke-width":1.2},'box-legend-key',p);
    mk('line',{x1:k[0]-9,x2:k[0]+9,y1:1335,y2:1335,stroke:"#000","stroke-width":1.8},'box-legend-median',p);
  });
})();

/* scatter */
(function(){
  const p=document.getElementById("pf");
  const x=lin(0,20,1054.4,1433.5),y=lin(1,3,1594,1412.3);
  const L=1038.5,R=1482.6,T=1322.7,B=1684.3;
  const g=mk('g',{},'scatter-plot-area',p);
  [2.5,7.5,12.5,17.5].forEach(v=>mk('line',{x1:x(v),x2:x(v),y1:T,y2:B,stroke:"#f4f4f4"},'scatter-minor-grid',g));
  [.5,1.5,2.5,3.5].forEach(v=>mk('line',{x1:L,x2:R,y1:y(v),y2:y(v),stroke:"#f4f4f4"},'scatter-minor-grid',g));
  scXTicks.forEach(v=>mk('line',{x1:x(v),x2:x(v),y1:T,y2:B,stroke:"#ebebeb","stroke-width":1.2},'scatter-major-grid',g));
  scYTicks.forEach(v=>mk('line',{x1:L,x2:R,y1:y(v),y2:y(v),stroke:"#ebebeb","stroke-width":1.2},'scatter-major-grid',g));
  scHighX.forEach((v,i)=>mk('circle',{cx:x(v),cy:y(scHighY[i]),r:3,fill:"#e69420"},'scatter-point-high',g));
  scLowX.forEach((v,i)=>mk('circle',{cx:x(v),cy:y(scLowY[i]),r:3,fill:"#3366ff"},'scatter-point-low',g));
  let rb="";
  ribbonX.forEach((v,i)=>{rb+=(i?"L":"M")+x(v).toFixed(1)+" "+y(ribbonUpper[i]).toFixed(1);});
  for(let i=ribbonX.length-1;i>=0;i--)rb+="L"+x(ribbonX[i]).toFixed(1)+" "+y(ribbonLower[i]).toFixed(1);
  mk('path',{d:rb+"Z",fill:"#999","fill-opacity":.4},'regression-ci-ribbon',g);
  mk('line',{x1:x(fitX[0]),y1:y(fitY[0]),x2:x(fitX[1]),y2:y(fitY[1]),stroke:"#3366ff","stroke-width":2.6},'regression-line',g);
  mk('rect',{x:L,y:T,width:R-L,height:B-T,fill:"none",stroke:"#666","stroke-width":1.3},'scatter-panel-border',g);
  scXTicks.forEach(v=>{
    mk('line',{x1:x(v),x2:x(v),y1:B,y2:B+3,stroke:"#444"},'scatter-x-tick',g);
    txt(String(v),{x:x(v),y:1700,"text-anchor":"middle","font-size":13,fill:"#333"},'scatter-x-label',g);
  });
  scYTicks.forEach(v=>{
    mk('line',{x1:L-3,x2:L,y1:y(v),y2:y(v),stroke:"#444"},'scatter-y-tick',g);
    txt(String(v),{x:L-5,y:y(v)+4.5,"text-anchor":"end","font-size":13,fill:"#333"},'scatter-y-label',g);
  });
  const r=txt("",{x:1059,y:1386,"font-size":14.5,textLength:122,lengthAdjust:"spacingAndGlyphs"},'correlation-annotation',g);
  r.innerHTML='<tspan font-style="italic">R</tspan> = 0.14, <tspan font-style="italic">p</tspan> = 0.022';
  mk('circle',{cx:1516.5,cy:1502.7,r:3,fill:"#3366ff"},'scatter-legend-low-dot',g);
  mk('circle',{cx:1516.5,cy:1525,r:3,fill:"#e69420"},'scatter-legend-high-dot',g);
})();

/* survival */
function drawKM(c){
  const p=document.getElementById(c.id);
  const x=lin(0,12,c.x0,c.x12),y=lin(0,1,c.y0,c.y1);
  c.series.forEach(s=>{
    let d="M"+x(s.t[0]).toFixed(1)+" "+y(s.s[0]).toFixed(1);
    for(let i=1;i<s.t.length;i++)d+="H"+x(s.t[i]).toFixed(1)+"V"+y(s.s[i]).toFixed(1);
    mk('path',{d:d,fill:"none",stroke:s.col,"stroke-width":2.9},'km-curve-'+s.n,p);
    let m="";
    s.c.forEach(t=>{
      let k=0;for(let i=0;i<s.t.length;i++)if(s.t[i]<=t)k=i;
      m+=`M${x(t).toFixed(1)} ${(y(s.s[k])-5).toFixed(1)}v10`;
    });
    mk('path',{d:m,fill:"none",stroke:s.col,"stroke-width":1.6},'km-censor-marks-'+s.n,p);
  });
  mk('path',{d:`M${c.ax} ${c.axT}V${c.axB}H${c.axR}`,fill:"none",stroke:"#111","stroke-width":1.4},'km-axes',p);
  kmYTicks.forEach(t=>{
    const v=parseFloat(t);
    mk('line',{x1:c.ax-3.5,x2:c.ax,y1:y(v),y2:y(v),stroke:"#111"},'km-y-tick',p);
    txt(t,{class:"tk",x:c.ax-6,y:y(v)+6,"text-anchor":"end",textLength:31,lengthAdjust:"spacingAndGlyphs"},'km-y-label',p);
  });
  kmXTicks.forEach(t=>{
    mk('line',{x1:x(t),x2:x(t),y1:c.axB,y2:c.axB+3.5,stroke:"#111"},'km-x-tick',p);
    txt(String(t),{class:"tk",x:x(t),y:2153,"text-anchor":"middle"},'km-x-label',p);
  });
  c.keys.forEach(k=>{
    mk('line',{x1:c.kx0,x2:c.kx1,y1:k[0],y2:k[0],stroke:k[1],"stroke-width":2.9},'km-legend-line',p);
    mk('line',{x1:(c.kx0+c.kx1)/2,x2:(c.kx0+c.kx1)/2,y1:k[0]-5,y2:k[0]+5,stroke:k[1],"stroke-width":1.6},'km-legend-censor',p);
  });
}
const RED="#e00000",BLUE="#3366ff",PUR="#6a5a97",GRN="#92c56b";
drawKM({id:"pg",x0:166,x12:567.8,y0:2118.3,y1:1781.3,ax:145.2,axT:1765,axB:2135,axR:604.5,kx0:477,kx1:495.5,keys:[[1837,RED],[1858,BLUE]],
 series:[{n:"h-tmb",t:gRedT,s:gRedS,c:gRedC,col:RED},{n:"l-tmb",t:gBlueT,s:gBlueS,c:gBlueC,col:BLUE}]});
drawKM({id:"ph",x0:1055.5,x12:1463.4,y0:2117.3,y1:1776,ax:1034.6,axT:1760,axB:2134.3,axR:1500.7,kx0:1341.4,kx1:1360.6,keys:[[1811.7,RED],[1833.3,BLUE],[1855,PUR],[1876.7,GRN]],
 series:[{n:"h-tmb-high",t:hRedT,s:hRedS,c:hRedC,col:RED},{n:"h-tmb-low",t:hBlueT,s:hBlueS,c:hBlueC,col:BLUE},{n:"l-tmb-high",t:hPurpleT,s:hPurpleS,c:hPurpleC,col:PUR},{n:"l-tmb-low",t:hGreenT,s:hGreenS,c:hGreenC,col:GRN}]});
</script>
</body></html>
